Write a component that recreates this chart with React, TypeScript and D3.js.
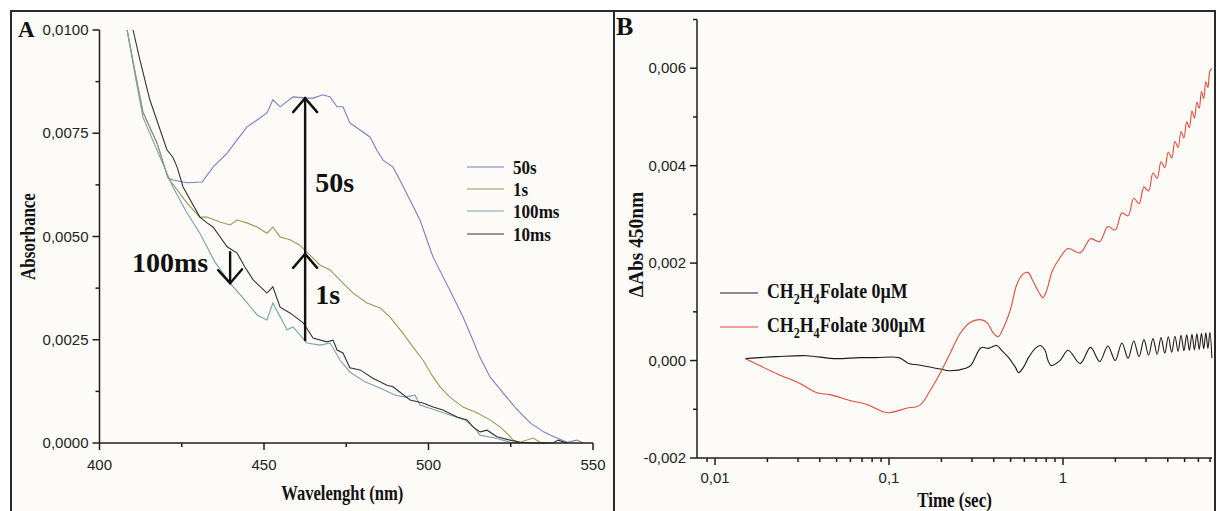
import React from 'react';
import * as d3 from 'd3';

const W = 1217;
const H = 511;

// ---------- Panel A : absorbance spectra ----------
const wl50s = [408.4,410.8,413.2,417.5,420.8,422.3,426.6,431.2,434.5,438.8,441.8,444.8,447.9,450.9,452.7,454.9,458.8,463.1,464.9,467.9,470.1,472.2,474.0,476.1,479.2,482.2,484.3,486.2,489.2,491.3,494.4,497.4,501.4,506.5,510.5,513.5,515.6,518.7,522.7,527.0,531.0,535.0,538.1,542.1,545.1,547.0];
const ab50s = [0.0100,0.00898,0.00801,0.00726,0.00642,0.00637,0.00630,0.00632,0.00668,0.00702,0.00734,0.00765,0.00782,0.00799,0.00831,0.00814,0.00838,0.00835,0.00835,0.00843,0.00838,0.00814,0.00814,0.00775,0.00758,0.00741,0.00709,0.00685,0.00668,0.00637,0.00588,0.00540,0.00450,0.00370,0.00305,0.00249,0.00208,0.00160,0.00121,0.00080,0.00048,0.00027,0.00015,0.00002,0.00007,0.0000];

const wl1s = [408.4,410.8,413.2,417.5,420.8,426.6,430.5,432.7,436.6,439.7,441.8,444.8,447.9,450.9,452.7,454.9,457.9,460.9,464.0,467.0,470.1,474.0,477.1,481.3,485.3,488.3,492.2,495.3,498.3,501.4,503.5,506.5,510.5,514.7,518.7,521.7,523.8,525.7,527.8,531.8,533.9,536.0];
const ab1s = [0.0100,0.00898,0.00801,0.00726,0.00642,0.00581,0.00547,0.00547,0.00535,0.00528,0.00540,0.00533,0.00523,0.00508,0.00523,0.00499,0.00492,0.00479,0.00455,0.00431,0.00419,0.00387,0.00363,0.00339,0.00327,0.00305,0.00266,0.00232,0.00201,0.00160,0.00136,0.00111,0.00087,0.00073,0.00056,0.00039,0.00024,0.00007,0.00002,0.00012,0.00002,0.0000];

const wl100ms = [408.4,410.8,413.2,417.5,422.3,426.6,430.5,435.1,439.7,444.2,447.9,450.9,452.7,457.0,458.8,463.1,467.0,470.1,473.1,476.1,480.7,485.2,489.8,492.8,495.9,497.4,502.0,506.5,511.1,514.1,515.6,520.2,524.8,527.8];
const ab100ms = [0.0100,0.00891,0.00789,0.00709,0.00620,0.00557,0.00508,0.00438,0.00387,0.00346,0.00310,0.00298,0.00339,0.00274,0.00281,0.00242,0.00237,0.00242,0.00201,0.00172,0.00148,0.00133,0.00116,0.00111,0.00116,0.00092,0.00080,0.00068,0.00056,0.00036,0.00019,0.00012,0.00002,0.0000];

const wl10ms = [410.2,412.3,415.3,420.5,422.3,423.6,425.4,430.5,432.7,434.5,438.8,441.8,444.2,446.7,450.9,452.7,454.9,457.9,461.9,464.9,469.1,471.0,472.2,474.0,476.1,479.2,483.1,487.4,489.2,494.4,498.3,501.4,504.4,508.7,511.7,513.5,515.7,517.8,520.8,524.8,527.8,531.8,537.8,539.4,542.1];
const ab10ms = [0.0100,0.00927,0.00831,0.00710,0.00692,0.00668,0.00620,0.00547,0.00533,0.00523,0.00475,0.00460,0.00426,0.00395,0.00363,0.00378,0.00329,0.00315,0.00291,0.00254,0.00245,0.00249,0.00225,0.00218,0.00182,0.00177,0.00157,0.00140,0.00136,0.00104,0.00097,0.00087,0.00080,0.00063,0.00056,0.00039,0.00027,0.00031,0.00015,0.00007,0.00002,0.0000,0.0000,0.00007,0.0000];

const seriesA = [
  { name: '50s', wl: wl50s, ab: ab50s, color: '#7f7cc4' },
  { name: '1s', wl: wl1s, ab: ab1s, color: '#939c58' },
  { name: '100ms', wl: wl100ms, ab: ab100ms, color: '#7aa2ac' },
  { name: '10ms', wl: wl10ms, ab: ab10ms, color: '#333333' },
];
const legendOrderA = ['50s', '1s', '100ms', '10ms'];

const yTicksA = [0, 0.0025, 0.005, 0.0075, 0.01];
const yMinorA = [0.00125, 0.00375, 0.00625, 0.00875];
const xTicksA = [400, 450, 500, 550];
const xMinorA = [425, 475, 525];

// arrow annotations (wavelength, absorbance)
const arrow50sWl = 462.5;
const arrow50sTop = 0.00835;
const arrow1sHead = 0.00458;
const arrowBottom = 0.00249;
const arrow100msWl = 439.7;
const arrow100msTop = 0.00462;
const arrow100msTip = 0.00387;

// ---------- Panel B : kinetics at 450 nm ----------
const tBlack = [0.0149,0.0227,0.0338,0.0478,0.068,0.0843,0.114,0.130,0.154,0.201,0.220,0.276,0.295,0.328,0.341,0.374,0.416,0.444,0.487,0.533,0.555,0.592,0.633,0.693,0.740,0.788,0.820,0.853,0.961,1.07,1.255,1.44,1.625,1.81,1.995,2.18,2.365,2.55,2.735,2.92,3.105,3.29,3.475,3.66,3.845,4.03,4.215,4.40,4.585,4.77,4.955,5.14,5.325,5.51,5.695,5.88,6.065,6.25,6.435,6.62,6.805,6.99,7.17];
const vBlack = [0.00004,0.00008,0.00010,0.00004,0.00006,0.00006,0.00006,-0.00006,-0.00010,-0.00018,-0.00021,-0.00016,-0.00010,0.00021,0.00027,0.00025,0.00031,0.00021,0.00006,-0.00014,-0.00025,-0.00014,0.00006,0.00025,0.00031,0.00021,0.0,-0.00010,0.0,0.00021,-0.00006,0.00027,-0.00002,0.00030,0.0,0.00036,0.00005,0.00040,0.00008,0.00043,0.00011,0.00045,0.00013,0.00047,0.00015,0.00049,0.00017,0.00050,0.00019,0.00052,0.00020,0.00053,0.00021,0.00054,0.00022,0.00055,0.00023,0.00056,0.00024,0.00057,0.00025,0.00058,0.00005];

const tRed = [0.0149,0.0227,0.0308,0.0385,0.0458,0.0596,0.0747,0.0922,0.101,0.126,0.150,0.172,0.196,0.224,0.256,0.292,0.333,0.366,0.397,0.424,0.453,0.497,0.545,0.591,0.629,0.671,0.735,0.767,0.806,0.870,0.961,1.07,1.255,1.44,1.625,1.81,1.995,2.18,2.365,2.55,2.735,2.92,3.105,3.29,3.475,3.66,3.845,4.03,4.215,4.40,4.585,4.77,4.955,5.14,5.325,5.51,5.695,5.88,6.065,6.25,6.435,6.62,6.805,6.99,7.18];
const vRed = [0.00004,-0.00027,-0.00047,-0.00066,-0.00070,-0.00082,-0.00090,-0.00105,-0.00107,-0.00098,-0.00092,-0.00062,-0.00027,0.00014,0.00055,0.00078,0.00084,0.00078,0.00057,0.00049,0.00066,0.00103,0.00158,0.00178,0.00181,0.00164,0.00137,0.00129,0.00144,0.00185,0.00211,0.00230,0.00221,0.00250,0.00244,0.00275,0.00268,0.00303,0.00297,0.00333,0.00322,0.00356,0.00348,0.00385,0.00374,0.00408,0.00396,0.00428,0.00416,0.00450,0.00437,0.00470,0.00457,0.00490,0.00478,0.00512,0.00498,0.00530,0.00518,0.00552,0.00538,0.00572,0.00560,0.00595,0.00599];

const seriesB = [
  { name: '0', t: tBlack, v: vBlack, color: '#1c1c1c', label: ['CH', '2', 'H', '4', 'Folate 0\u00b5M'] },
  { name: '300', t: tRed, v: vRed, color: '#e4493a', label: ['CH', '2', 'H', '4', 'Folate 300\u00b5M'] },
];

const yTicksB = [-0.002, 0, 0.002, 0.004, 0.006];
const yMinorB = [-0.001, 0.001, 0.003, 0.005, 0.007];
const xTicksB = [0.01, 0.1, 1];
const xTickLabelsB = ['0,01', '0,1', '1'];
const xMinorB = [0.009, 0.02, 0.03, 0.04, 0.05, 0.06, 0.07, 0.08, 0.09, 0.2, 0.3, 0.4, 0.5, 0.6, 0.7, 0.8, 0.9, 2, 3, 4, 5, 6, 7];

const SERIF = '"Liberation Serif", "Times New Roman", Times, serif';
const SANS = '"Liberation Sans", Arial, Helvetica, sans-serif';
const AX = '#1e1e1e';

export default function App() {
  const xA = d3.scaleLinear().domain([400, 550]).range([99.5, 593]);
  const yA = d3.scaleLinear().domain([0, 0.01]).range([443, 30]);
  const xB = d3.scaleLog().domain([0.00788, 7.183]).range([697, 1212]);
  const yB = d3.scaleLinear().domain([-0.002, 0.007]).range([458, 19.5]);

  const lineA = d3.line<[number, number]>().x(d => xA(d[0])).y(d => yA(d[1])).curve(d3.curveLinear);
  const lineB = d3.line<[number, number]>().x(d => xB(d[0])).y(d => yB(d[1])).curve(d3.curveCatmullRom.alpha(0.5));

  const pairs = (a: number[], b: number[]) => {
    const n = Math.min(a.length, b.length);
    const out: [number, number][] = [];
    for (let i = 0; i < n; i++) out.push([a[i], b[i]]);
    return out;
  };

  const axA = { x0: xA.range()[0], x1: xA.range()[1], y0: yA.range()[0], y1: yA.range()[1] };
  const axB = { x0: xB.range()[0], x1: xB.range()[1], y0: yB.range()[0], y1: yB.range()[1] };

  const ax50 = xA(arrow50sWl);
  const ax100 = xA(arrow100msWl);

  return (
    <svg width={W} height={H} style={{ position: 'absolute', left: 0, top: 0, display: 'block' }}>
      <rect x={0} y={0} width={W} height={H} fill="#ffffff" />
      <rect x={11} y={11} width={1204} height={520} fill="#fcfbf8" stroke="#2a2a2a" strokeWidth={2} />
      <line x1={614} x2={614} y1={11} y2={H} stroke="#2a2a2a" strokeWidth={2} />

      {/* ---------------- Panel A ---------------- */}
      <g>
        {seriesA.map(s => (
          <path key={s.name} d={lineA(pairs(s.wl, s.ab)) || ''} fill="none" stroke={s.color} strokeWidth={1.1} />
        ))}
        <line x1={axA.x0} x2={axA.x0} y1={axA.y1} y2={axA.y0} stroke={AX} strokeWidth={1.5} />
        <line x1={axA.x0} x2={axA.x1} y1={axA.y0} y2={axA.y0} stroke={AX} strokeWidth={1.5} />
        {yTicksA.map(v => (
          <g key={'ya' + v}>
            <line x1={axA.x0 - 7} x2={axA.x0} y1={yA(v)} y2={yA(v)} stroke={AX} strokeWidth={1.5} />
            <text x={axA.x0 - 11} y={yA(v) + 5} textAnchor="end" fontFamily={SANS} fontSize={15} fill="#222">
              {v.toFixed(4).replace('.', ',')}
            </text>
          </g>
        ))}
        {yMinorA.map(v => (
          <line key={'yma' + v} x1={axA.x0 - 4} x2={axA.x0} y1={yA(v)} y2={yA(v)} stroke={AX} strokeWidth={1.5} />
        ))}
        {xTicksA.map(v => (
          <g key={'xa' + v}>
            <line x1={xA(v)} x2={xA(v)} y1={axA.y0} y2={axA.y0 + 7} stroke={AX} strokeWidth={1.5} />
            <text x={xA(v)} y={470} textAnchor="middle" fontFamily={SANS} fontSize={15} fill="#222">{v}</text>
          </g>
        ))}
        {xMinorA.map(v => (
          <line key={'xma' + v} x1={xA(v)} x2={xA(v)} y1={axA.y0} y2={axA.y0 + 4} stroke={AX} strokeWidth={1.5} />
        ))}
        <text transform={`translate(${(axA.x0 + axA.x1) / 2 - 4},500) scale(0.83,1)`} textAnchor="middle"
          fontFamily={SERIF} fontWeight="bold" fontSize={20} fill="#111">Wavelenght (nm)</text>
        <text transform={`translate(35,236.5) rotate(-90) scale(0.85,1)`} textAnchor="middle"
          fontFamily={SERIF} fontWeight="bold" fontSize={20} fill="#111">Absorbance</text>
        <text x={18} y={37} fontFamily={SERIF} fontWeight="bold" fontSize={23} fill="#111">A</text>

        {legendOrderA.map((nm, i) => {
          const s = seriesA.find(d => d.name === nm)!;
          const ly = [167, 189, 211, 234][i];
          return (
            <g key={'lg' + nm}>
              <line x1={467} x2={504} y1={ly} y2={ly} stroke={s.color} strokeWidth={1.2} />
              <text transform={`translate(513,${ly + 7}) scale(0.9,1)`} fontFamily={SERIF} fontWeight="bold" fontSize={19} fill="#111">{nm}</text>
            </g>
          );
        })}

        <g stroke="#111" strokeWidth={2.4} fill="none" strokeLinecap="round">
          <line x1={ax50} x2={ax50} y1={yA(arrow50sTop)} y2={yA(arrowBottom)} />
          <polyline points={`${ax50 - 12},${yA(arrow50sTop) + 14} ${ax50},${yA(arrow50sTop)} ${ax50 + 12},${yA(arrow50sTop) + 14}`} />
          <polyline points={`${ax50 - 12},${yA(arrow1sHead) + 14} ${ax50},${yA(arrow1sHead)} ${ax50 + 12},${yA(arrow1sHead) + 14}`} />
          <line x1={ax100} x2={ax100} y1={yA(arrow100msTop)} y2={yA(arrow100msTip)} />
          <polyline points={`${ax100 - 12},${yA(arrow100msTip) - 13} ${ax100},${yA(arrow100msTip)} ${ax100 + 12},${yA(arrow100msTip) - 14}`} />
        </g>
        <text x={ax50 + 10} y={192} fontFamily={SERIF} fontWeight="bold" fontSize={28} fill="#111">50s</text>
        <text x={ax50 + 10} y={304} fontFamily={SERIF} fontWeight="bold" fontSize={28} fill="#111">1s</text>
        <text x={132} y={272} fontFamily={SERIF} fontWeight="bold" fontSize={28} fill="#111">100ms</text>
      </g>

      {/* ---------------- Panel B ---------------- */}
      <g>
        {seriesB.map(s => (
          <path key={s.name} d={lineB(pairs(s.t, s.v)) || ''} fill="none" stroke={s.color} strokeWidth={1.1} />
        ))}
        <line x1={axB.x0} x2={axB.x0} y1={axB.y1} y2={axB.y0} stroke={AX} strokeWidth={1.5} />
        <line x1={axB.x0} x2={axB.x1} y1={axB.y0} y2={axB.y0} stroke={AX} strokeWidth={1.5} />
        {yTicksB.map(v => (
          <g key={'yb' + v}>
            <line x1={axB.x0 - 7} x2={axB.x0} y1={yB(v)} y2={yB(v)} stroke={AX} strokeWidth={1.5} />
            <text x={axB.x0 - 11} y={yB(v) + 5} textAnchor="end" fontFamily={SANS} fontSize={15} fill="#222">
              {v.toFixed(3).replace('.', ',')}
            </text>
          </g>
        ))}
        {yMinorB.map(v => (
          <line key={'ymb' + v} x1={axB.x0 - 4} x2={axB.x0} y1={yB(v)} y2={yB(v)} stroke={AX} strokeWidth={1.5} />
        ))}
        {xTicksB.map((v, i) => (
          <g key={'xb' + v}>
            <line x1={xB(v)} x2={xB(v)} y1={axB.y0} y2={axB.y0 + 7} stroke={AX} strokeWidth={1.5} />
            <text x={xB(v)} y={483} textAnchor="middle" fontFamily={SANS} fontSize={15} fill="#222">{xTickLabelsB[i]}</text>
          </g>
        ))}
        {xMinorB.map(v => (
          <line key={'xmb' + v} x1={xB(v)} x2={xB(v)} y1={axB.y0} y2={axB.y0 + 4} stroke={AX} strokeWidth={1.5} />
        ))}
        <text transform={`translate(${(axB.x0 + axB.x1) / 2},507) scale(0.85,1)`} textAnchor="middle"
          fontFamily={SERIF} fontWeight="bold" fontSize={20} fill="#111">Time (sec)</text>
        <text transform={`translate(643,244.5) rotate(-90) scale(0.97,1)`} textAnchor="middle"
          fontFamily={SERIF} fontWeight="bold" fontSize={20} fill="#111">{'\u0394Abs 450nm'}</text>
        <text x={616} y={35} fontFamily={SERIF} fontWeight="bold" fontSize={26} fill="#111">B</text>

        {seriesB.map((s, i) => {
          const ly = [293, 327][i];
          return (
            <g key={'lgb' + s.name}>
              <line x1={720} x2={758} y1={ly} y2={ly} stroke={s.color} strokeWidth={1.2} />
              <text transform={`translate(767,${ly + 5}) scale(0.81,1)`} fontFamily={SERIF} fontWeight="bold" fontSize={22} fill="#111">
                {s.label[0]}
                <tspan dy={6} fontSize={15}>{s.label[1]}</tspan>
                <tspan dy={-6}>{s.label[2]}</tspan>
                <tspan dy={6} fontSize={15}>{s.label[3]}</tspan>
                <tspan dy={-6}>{s.label[4]}</tspan>
              </text>
            </g>
          );
        })}
      </g>
    </svg>
  );
}
